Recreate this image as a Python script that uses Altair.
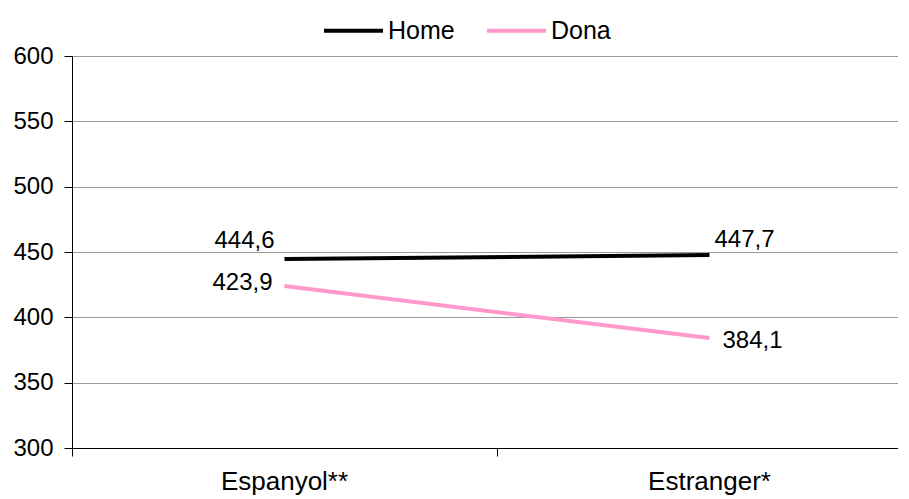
import altair as alt
import pandas as pd

CATEGORIES = ["Espanyol**", "Estranger*"]
SERIES = ["Home", "Dona"]
HOME = [444.6, 447.7]
DONA = [423.9, 384.1]
Y_TICKS = [300, 350, 400, 450, 500, 550, 600]
COLORS = ["#000000", "#FF99CC"]

FONT = "Liberation Sans"
FS_NUM = 24
FS_TXT = 25
FS_CAT = 26

rows = []
for s, vals in zip(SERIES, [HOME, DONA]):
    for i, (c, v) in enumerate(zip(CATEGORIES, vals)):
        rows.append({"series": s, "cat": c, "idx": i, "value": v,
                     "label": f"{v:.1f}".replace(".", ",")})
df = pd.DataFrame(rows)

cat_df = pd.DataFrame({"cat": CATEGORIES, "idx": list(range(len(CATEGORIES))),
                       "base": [Y_TICKS[0]] * len(CATEGORIES)})

W = 826
PX_PER_CAT = 425
xscale = alt.Scale(domain=[-0.5, -0.5 + W / PX_PER_CAT], nice=False, zero=False)
yscale = alt.Scale(domain=[Y_TICKS[0], Y_TICKS[-1]], nice=False, zero=False)

base = alt.Chart(df)

lines = base.mark_line(strokeWidth=4).encode(
    x=alt.X("idx:Q", scale=xscale,
            axis=alt.Axis(values=[-0.5, 0.5], labels=False, tickSize=8,
                          tickColor="black", domainColor="black", grid=False,
                          title=None)),
    y=alt.Y("value:Q", scale=yscale,
            axis=alt.Axis(values=Y_TICKS, grid=True, gridColor="#999999",
                          tickSize=8, tickColor="black", domainColor="black",
                          labelFont=FONT, labelFontSize=FS_NUM, labelColor="black",
                          labelPadding=11, title=None)),
    color=alt.Color("series:N", sort=SERIES,
                    scale=alt.Scale(domain=SERIES, range=COLORS),
                    legend=alt.Legend(title=None, orient="none", direction="horizontal",
                                      legendX=250, legendY=-57,
                                      symbolType="stroke", symbolStrokeWidth=4,
                                      symbolSize=3481, labelOffset=3,
                                      columnPadding=24, labelFont=FONT,
                                      labelFontSize=FS_TXT, labelColor="black")),
)

# label placement styles per (series, index)
placements = {
    ("Home", 0): ("right", -10, -18),
    ("Dona", 0): ("right", -12, -3),
    ("Home", 1): ("left", 5, -15),
    ("Dona", 1): ("left", 13, 3),
}

text_layers = []
for (s, i), (al, dx, dy) in placements.items():
    t = base.transform_filter(
        (alt.datum.series == s) & (alt.datum.idx == i)
    ).mark_text(align=al, baseline="middle", dx=dx, dy=dy, font=FONT,
                fontSize=FS_NUM, color="black").encode(
        x=alt.X("idx:Q", scale=xscale),
        y=alt.Y("value:Q", scale=yscale),
        text="label:N",
    )
    text_layers.append(t)

cat_labels = alt.Chart(cat_df).mark_text(
    align="center", baseline="alphabetic", dy=42, font=FONT, fontSize=FS_CAT,
    color="black").encode(
    x=alt.X("idx:Q", scale=xscale),
    y=alt.Y("base:Q", scale=yscale),
    text="cat:N",
)

chart = alt.layer(lines, *text_layers, cat_labels).properties(
    width=W, height=392,
    autosize=alt.AutoSizeParams(type="none"),
    padding={"left": 64, "top": 48, "right": 0, "bottom": 50},
).configure_view(stroke=None).configure(background="white")

chart.save("out.html", embed_options={"renderer": "svg", "actions": False})
